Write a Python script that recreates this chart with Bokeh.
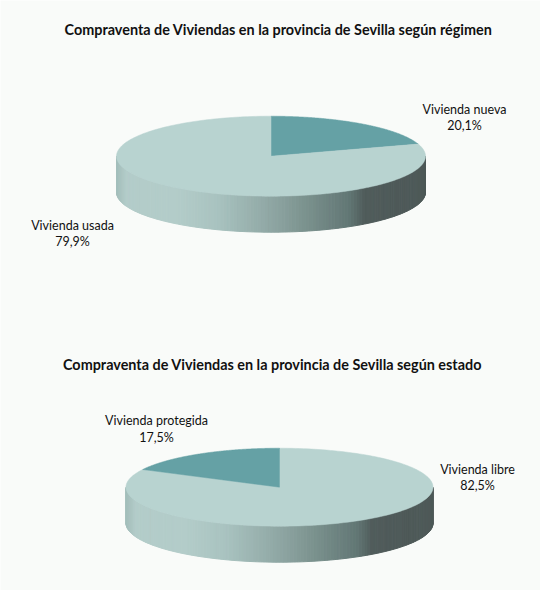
import numpy as np
from bokeh.plotting import figure
from bokeh.models import Range1d, ColumnDataSource
from bokeh.core.properties import value
from bokeh.embed import file_html
from bokeh.resources import INLINE

# ---------------- data ----------------
titulo_regimen = "Compraventa de Viviendas en la provincia de Sevilla según régimen"
categorias_regimen = ["Vivienda nueva", "Vivienda usada"]
valores_regimen = [20.1, 79.9]

titulo_estado = "Compraventa de Viviendas en la provincia de Sevilla según estado"
categorias_estado = ["Vivienda libre", "Vivienda protegida"]
valores_estado = [82.5, 17.5]

# ---------------- style / layout ----------------
BG = "#f9fbf9"
TXT = "#111111"
FONT = "Lato"
SLICE_COLORS = {"dark": "#65a1a5", "light": "#b8d3d0"}
SIDE_STOPS = [(0.00, (164, 190, 187)), (0.03, (179, 204, 201)), (0.19, (179, 204, 201)),
              (0.32, (169, 195, 192)), (0.48, (146, 170, 167)), (0.60, (125, 148, 144)),
              (0.75, (98, 119, 117)), (0.80, (80, 92, 91)), (1.00, (78, 89, 88))]

W, H = 540, 590
p = figure(width=W, height=H, output_backend="svg", toolbar_location=None,
           x_range=Range1d(0, W), y_range=Range1d(H, 0),
           min_border=0, background_fill_color=BG, border_fill_color=BG)
p.axis.visible = False
p.grid.visible = False
p.outline_line_color = None


def side_color(t):
    for (t0, c0), (t1, c1) in zip(SIDE_STOPS[:-1], SIDE_STOPS[1:]):
        if t <= t1:
            f = 0 if t1 == t0 else (t - t0) / (t1 - t0)
            c = [int(round(c0[i] + f * (c1[i] - c0[i]))) for i in range(3)]
            return "#%02x%02x%02x" % tuple(c)
    return "#%02x%02x%02x" % SIDE_STOPS[-1][1]


def pie3d(cx, cy, a, b, depth, values, colors):
    # front side (visible from 90deg to 270deg, clockwise from 12 o'clock)
    n = 140
    th = np.radians(np.linspace(90, 270, n + 1))
    xs, ys, cols = [], [], []
    for i in range(n):
        t0, t1 = th[i], th[i + 1]
        x0, x1 = cx + a * np.sin(t0), cx + a * np.sin(t1)
        y0, y1 = cy - b * np.cos(t0), cy - b * np.cos(t1)
        xs.append([x0, x1, x1, x0])
        ys.append([y0, y1, y1 + depth, y0 + depth])
        tm = ((x0 + x1) / 2 - (cx - a)) / (2 * a)
        cols.append(side_color(tm))
    p.patches(xs="xs", ys="ys", fill_color="c", line_color="c", line_width=1,
              source=ColumnDataSource(dict(xs=xs, ys=ys, c=cols)))
    # top face slices
    total = sum(values)
    start = 0.0
    for v, col in zip(values, colors):
        end = start + 360.0 * v / total
        angs = np.radians(np.linspace(start, end, 200))
        px = [cx] + list(cx + a * np.sin(angs))
        py = [cy] + list(cy - b * np.cos(angs))
        p.patch(px, py, fill_color=col, line_color=col, line_width=0.5)
        start = end


def fmt(v):
    return f"{v:.1f}%".replace(".", ",")


def label(x, y, cat, val):
    p.text(x=[x], y=[y], text=[cat], text_align="center", text_baseline="middle",
           text_font=value(FONT), text_font_size="12.5px", text_color=TXT)
    p.text(x=[x], y=[y + 16.5], text=[fmt(val)], text_align="center", text_baseline="middle",
           text_font=value(FONT), text_font_size="12.5px", text_color=TXT)


def title(x, y, txt):
    p.text(x=[x], y=[y], text=[txt], text_align="center", text_baseline="middle",
           text_font=value(FONT), text_font_style="bold", text_font_size="14.4px",
           text_color=TXT)


# chart 1: régimen
title(278, 29, titulo_regimen)
pie3d(270.5, 155.7, 154.5, 40, 36, valores_regimen,
      [SLICE_COLORS["dark"], SLICE_COLORS["light"]])
label(464, 108.5, categorias_regimen[0], valores_regimen[0])
label(72, 224.5, categorias_regimen[1], valores_regimen[1])

# chart 2: estado
title(272, 364, titulo_estado)
pie3d(279, 486.7, 153.5, 39, 36, valores_estado,
      [SLICE_COLORS["light"], SLICE_COLORS["dark"]])
label(477, 468.5, categorias_estado[0], valores_estado[0])
label(156, 420, categorias_estado[1], valores_estado[1])

open("out.html", "w").write(file_html(p, INLINE))
